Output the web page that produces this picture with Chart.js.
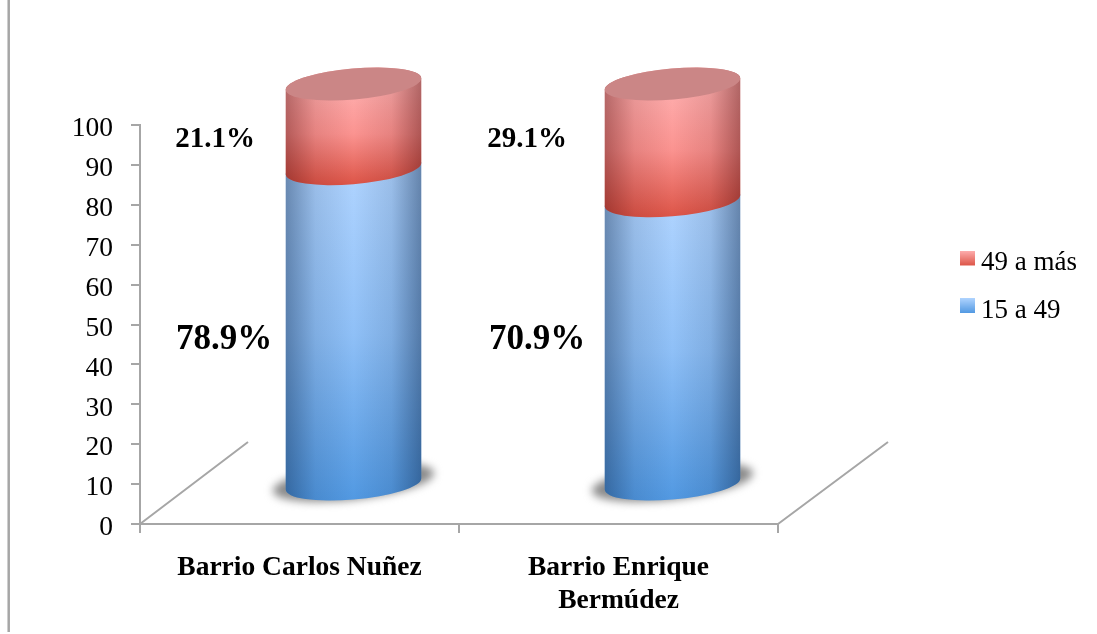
<!DOCTYPE html>
<html>
<head>
<meta charset="utf-8">
<style>
  html, body { margin: 0; background: #fff; }
  canvas { display: block; }
</style>
<script src="https://cdn.jsdelivr.net/npm/chart.js@4/dist/chart.umd.js"></script>
</head>
<body>
<canvas id="chart" width="1097" height="634"></canvas>
<script>
const categories = ['Barrio Carlos Nuñez', ['Barrio Enrique', 'Bermúdez']];
const young = [78.9, 70.9];   // 15 a 49
const older = [21.1, 29.1];   // 49 a más
const seriesNames = ['15 a 49', '49 a más'];
const yTicks = [0, 10, 20, 30, 40, 50, 60, 70, 80, 90, 100];

const FONT = '"Liberation Serif", serif';
const GREY = '#a6a6a6';
const light = ['#b0d4ff', '#ffb0b0'];
const middle = ['#8fc0f7', '#fb9390'];
const deep = ['#5299e2', '#dd5548'];
const shade = ['10,35,70', '80,10,10'];
const CAP = '#cb8686';

// the picture is a fake 3D one, so bars sit back from the axis plane
const DEPTH_X = 54, DEPTH_Y = 39, STRETCH = 401 / 399;
const RX = 68, RY = 15.5, TILT = -5 * Math.PI / 180;
const T0 = Math.atan(RY * Math.sin(-TILT) / (RX * Math.cos(TILT)));

// legend square, with empty room below it so it sits above the text middle
function swatch(i) {
  const c = document.createElement('canvas');
  c.width = 15;
  c.height = 25;
  const g = c.getContext('2d');
  const grad = g.createLinearGradient(0, 0, 0, 15);
  grad.addColorStop(0, light[i]);
  grad.addColorStop(1, deep[i]);
  g.fillStyle = grad;
  g.fillRect(0, 0, 15, 15);
  return c;
}

function cylinderPlugin() {
  return {
    id: 'cylinders',
    beforeDraw(chart) {
      const { ctx, scales: { x, y } } = chart;
      ctx.save();
      ctx.strokeStyle = GREY;
      ctx.lineWidth = 2.5;
      // page frame on the left
      ctx.beginPath(); ctx.moveTo(8.7, 0); ctx.lineTo(8.7, 632); ctx.stroke();
      // floor edges
      ctx.lineWidth = 2;
      ctx.beginPath();
      ctx.moveTo(x.left, y.bottom); ctx.lineTo(x.left + 2 * DEPTH_X, y.bottom - 82);
      ctx.moveTo(x.right, y.bottom); ctx.lineTo(x.right + 2 * DEPTH_X + 2, y.bottom - 82);
      ctx.stroke();
      ctx.restore();
    },
    beforeDatasetsDraw(chart) {
      const { ctx, scales: { y } } = chart;
      const lift = px => y.bottom - DEPTH_Y - (y.bottom - px) * STRETCH;
      const metas = chart.data.datasets.map((d, i) => chart.getDatasetMeta(i));

      metas[0].data.forEach(bar => {
        ctx.save();
        ctx.filter = 'blur(4px)';
        ctx.fillStyle = '#8a8a8a';
        ctx.beginPath();
        ctx.ellipse(bar.x + DEPTH_X, lift(bar.base) - 2, 81, 17.5, -6.5 * Math.PI / 180, 0, Math.PI * 2);
        ctx.fill();
        ctx.restore();
      });

      metas.forEach((meta, i) => {
        meta.data.forEach(bar => {
          const cx = bar.x + DEPTH_X;
          const top = lift(bar.y), bottom = lift(bar.base);
          ctx.save();
          ctx.beginPath();
          ctx.ellipse(cx, bottom, RX, RY, TILT, T0, T0 + Math.PI, false);
          ctx.ellipse(cx, top, RX, RY, TILT, T0 + Math.PI, T0, false);
          ctx.closePath();
          const body = ctx.createLinearGradient(0, top, 0, bottom + RY);
          body.addColorStop(0, light[i]);
          body.addColorStop(0.5, middle[i]);
          body.addColorStop(1, deep[i]);
          ctx.fillStyle = body;
          ctx.fill();
          const side = ctx.createLinearGradient(cx - RX, 0, cx + RX, 0);
          side.addColorStop(0, 'rgba(' + shade[i] + ',0.42)');
          side.addColorStop(0.22, 'rgba(' + shade[i] + ',0.12)');
          side.addColorStop(0.5, 'rgba(' + shade[i] + ',0)');
          side.addColorStop(0.78, 'rgba(' + shade[i] + ',0.12)');
          side.addColorStop(1, 'rgba(' + shade[i] + ',0.45)');
          ctx.fillStyle = side;
          ctx.fill();
          ctx.restore();
        });
      });

      // lid on the top segment
      metas[metas.length - 1].data.forEach(bar => {
        ctx.fillStyle = CAP;
        ctx.beginPath();
        ctx.ellipse(bar.x + DEPTH_X, lift(bar.y), RX, RY, TILT, 0, Math.PI * 2);
        ctx.fill();
      });

      // value labels beside the cylinders
      ctx.fillStyle = '#000';
      ctx.textAlign = 'center';
      ctx.textBaseline = 'middle';
      const xs = [[224, 537], [215, 527]];
      const ys = [340, 139.5];
      const sizes = [35, 29];
      [young, older].forEach((vals, i) => {
        ctx.font = 'bold ' + sizes[i] + 'px ' + FONT;
        vals.forEach((v, j) => ctx.fillText(v.toFixed(1) + '%', xs[i][j], ys[i]));
      });
      return false;
    },
    afterLayout(chart) {
      // legend floats to the right of the floor edge
      const lg = chart.legend;
      lg.left = 946; lg.right = 1097; lg.top = 229; lg.bottom = 345;
    }
  };
}

new Chart(document.getElementById('chart').getContext('2d'), {
  type: 'bar',
  data: {
    labels: categories,
    datasets: [
      { label: seriesNames[0], data: young, backgroundColor: deep[0] },
      { label: seriesNames[1], data: older, backgroundColor: deep[1] }
    ]
  },
  options: {
    responsive: false,
    animation: false,
    barPercentage: 135 / 319,
    categoryPercentage: 1,
    layout: { padding: { top: 125, right: 319, bottom: 0, left: 0 } },
    scales: {
      x: {
        stacked: true,
        afterFit(s) { s.height = 110; },
        grid: { drawOnChartArea: false, color: GREY, lineWidth: 2, tickLength: 9 },
        border: { color: GREY, width: 2 },
        ticks: { color: '#000', padding: 18, maxRotation: 0, autoSkip: false, font: { family: FONT, size: 27.5, weight: 'bold', lineHeight: 1.2 } }
      },
      y: {
        stacked: true,
        min: 0,
        max: 100,
        afterFit(s) {
          s.width = 140;
          // digits sit a bit high on the middle baseline
          const items = s._computeLabelItems;
          s._computeLabelItems = a => items.call(s, a).map(it => ({ ...it, textOffset: it.textOffset + 2 }));
        },
        afterBuildTicks(s) { s.ticks = yTicks.map(value => ({ value })); },
        grid: { drawOnChartArea: false, color: GREY, lineWidth: 2, tickLength: 9 },
        border: { color: GREY, width: 2 },
        ticks: { color: '#000', padding: 18, font: { family: FONT, size: 27.5 } }
      }
    },
    plugins: {
      tooltip: { enabled: false },
      legend: {
        position: 'chartArea',
        align: 'start',
        reverse: true,
        labels: {
          usePointStyle: true,
          pointStyleWidth: 1,
          boxHeight: 15,
          padding: 20.5,
          color: '#000',
          font: { family: FONT, size: 27 },
          generateLabels(chart) {
            return chart.data.datasets.map((d, i) => (
              { text: d.label, pointStyle: swatch(i), strokeStyle: 'transparent', lineWidth: 0, datasetIndex: i }
            ));
          }
        }
      }
    }
  },
  plugins: [cylinderPlugin()]
});
</script>
</body>
</html>
